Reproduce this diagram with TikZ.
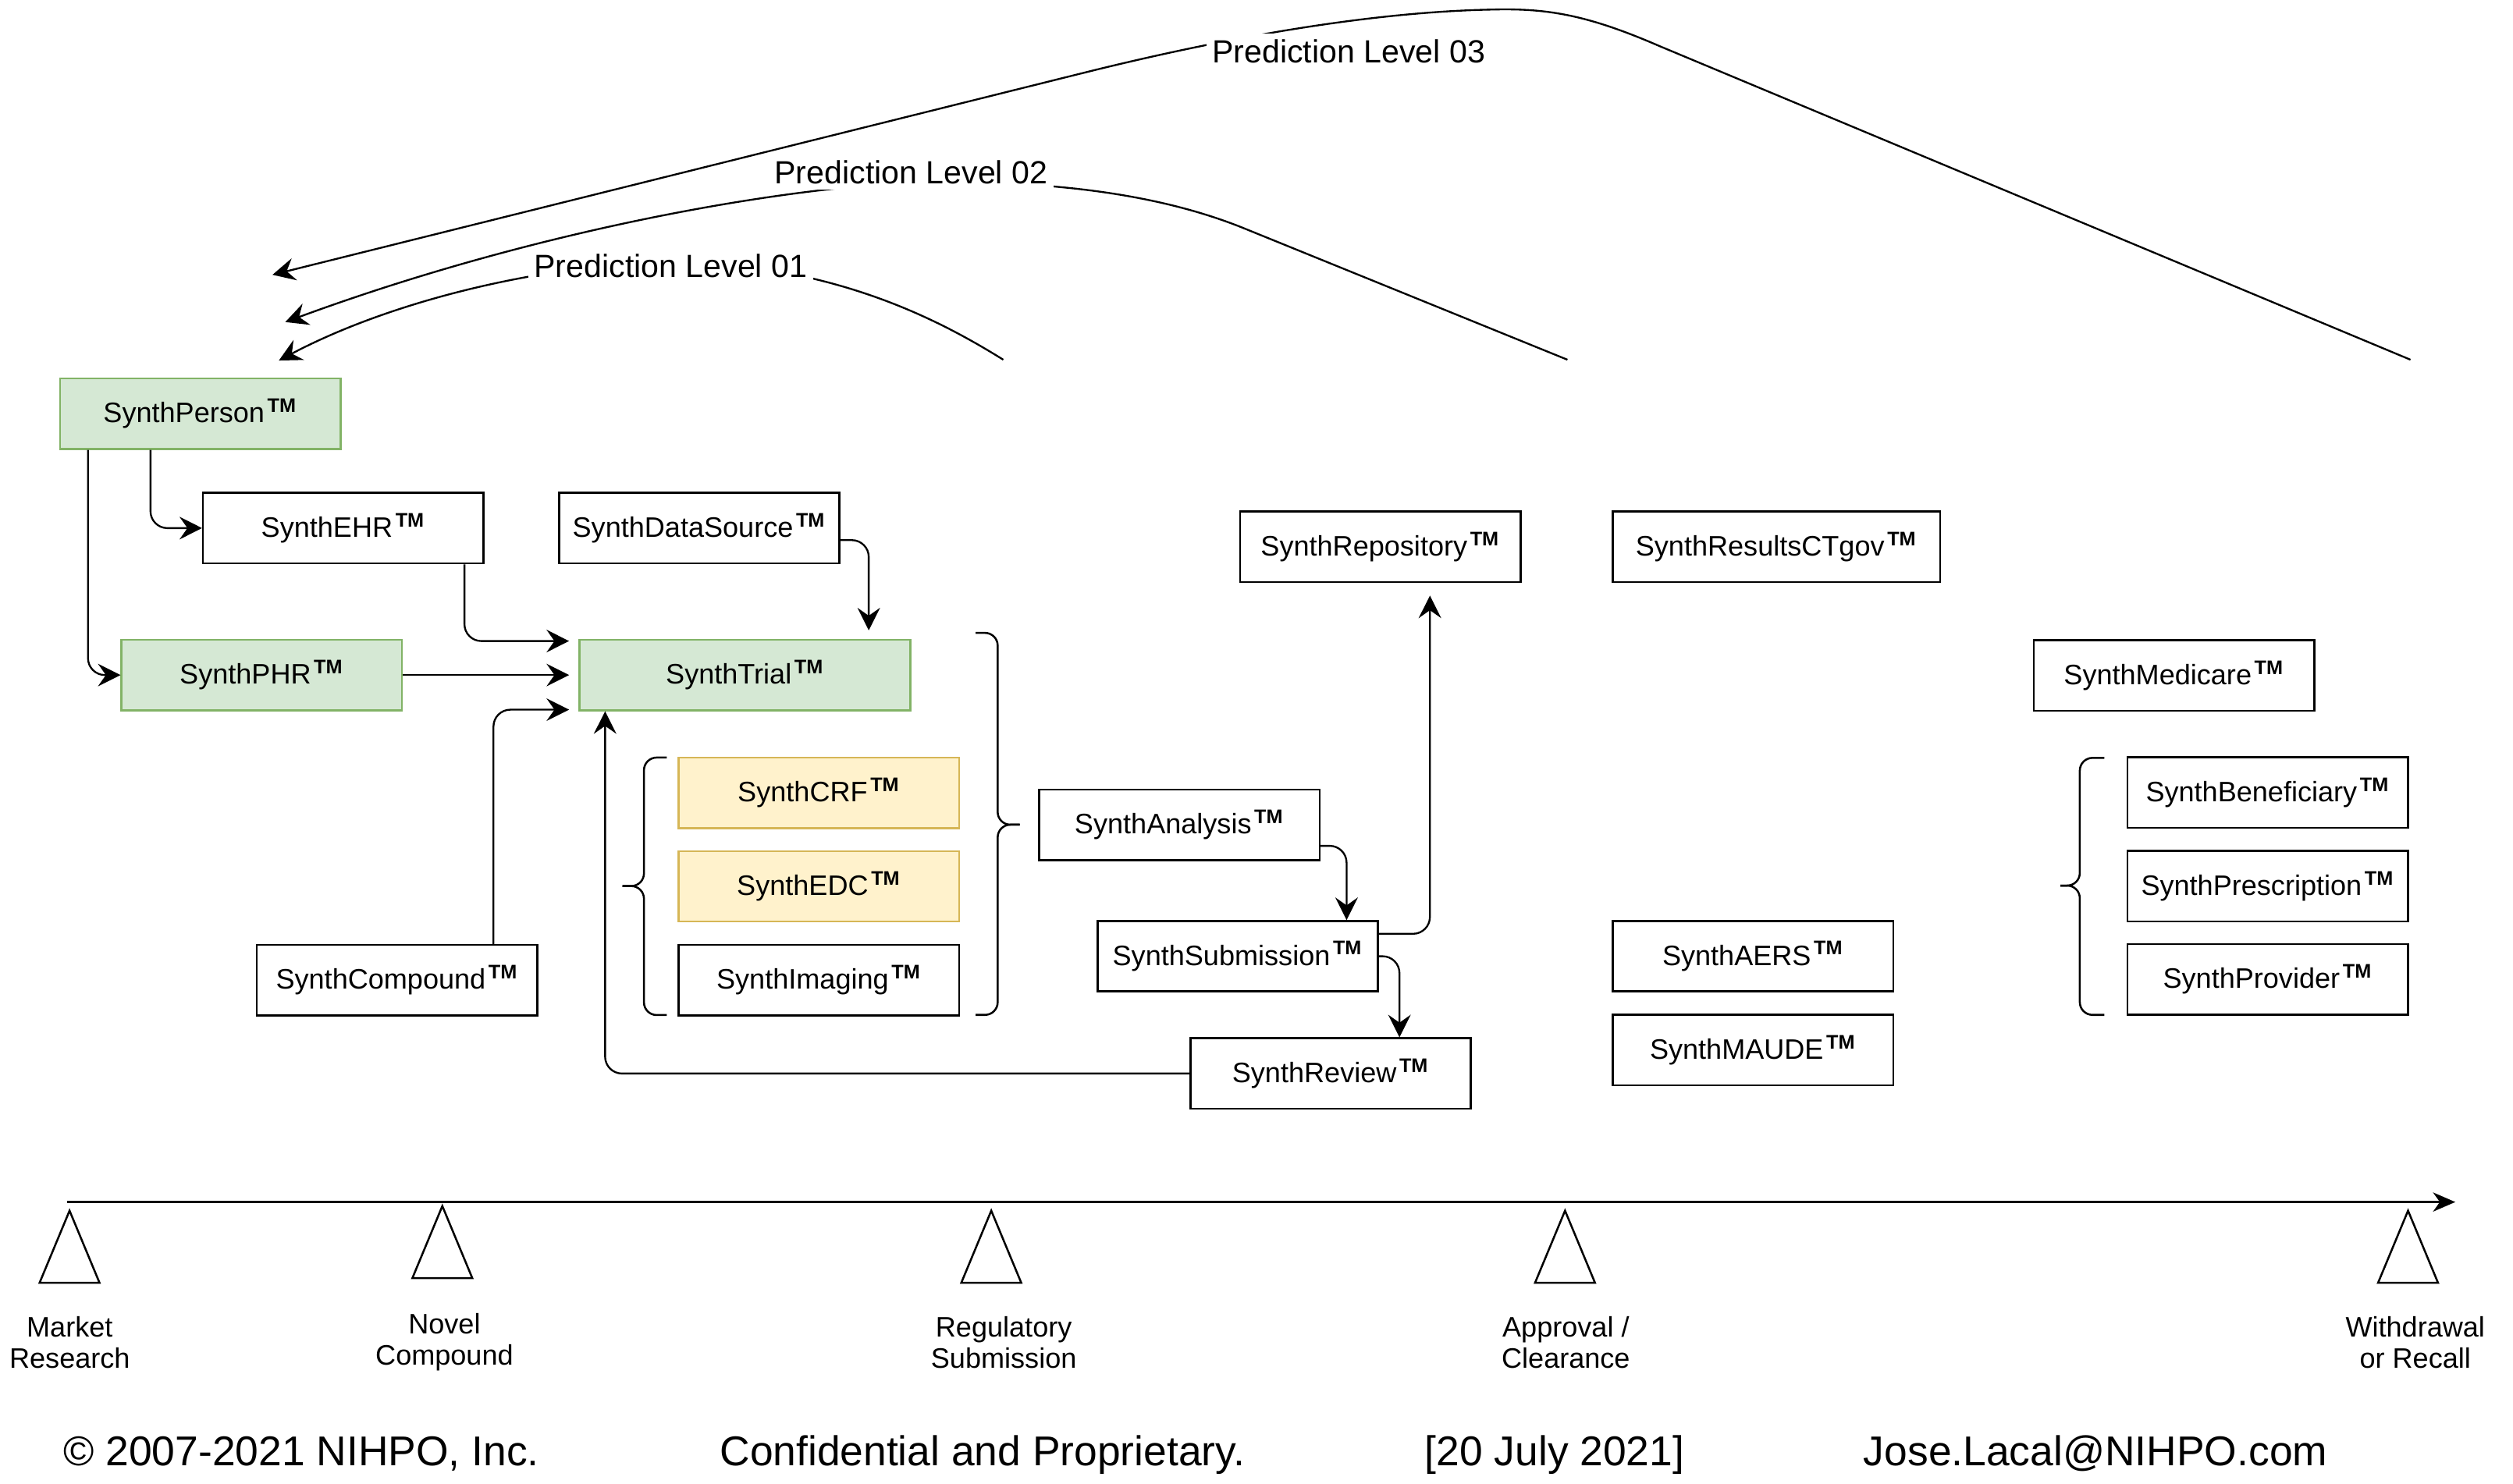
\documentclass[tikz,border=0pt]{standalone}
\usepackage{fontspec}
\setmainfont{Liberation Sans}
\usetikzlibrary{arrows.meta,calc}

\definecolor{greenfill}{HTML}{D5E8D4}
\definecolor{greenline}{HTML}{82B366}
\definecolor{yellowfill}{HTML}{FFF2CC}
\definecolor{yellowline}{HTML}{D6B656}

\newcommand{\synthtm}{\kern1pt\textsuperscript{\bfseries TM}}

\begin{document}
\begin{tikzpicture}[x=0.02cm, y=-0.02cm,
	synthbox/.style={draw, line width=0.7pt, minimum width=3.5cm, minimum height=0.88cm, inner sep=0pt, font=\fontsize{10}{12}\selectfont},
	greenbox/.style={synthbox, draw=greenline, fill=greenfill},
	yellowbox/.style={synthbox, draw=yellowline, fill=yellowfill},
	link/.style={line width=0.65pt, rounded corners=6pt, -{Stealth[length=8pt, width=8pt, inset=2.8pt]}},
	predict/.style={line width=0.65pt, -{Stealth[length=8pt, width=8pt, inset=2.8pt]}},
	levellabel/.style={fill=white, inner sep=2pt, anchor=base, font=\fontsize{11.4}{13.7}\selectfont},
	bracket/.style={line width=0.7pt, rounded corners=4.5pt},
	milestone/.style={line width=0.7pt},
	stagetext/.style={anchor=north, align=center, inner sep=0pt, font=\fontsize{10}{11}\selectfont},
	footer/.style={anchor=base, inner sep=0pt, font=\fontsize{14.8}{17}\selectfont}]

	\useasboundingbox (0,0) rectangle (1568,926);

	% ---- boxes

	\node[greenbox] (person) at (125,258.2) {SynthPerson\synthtm};
	\node[synthbox] (ehr) at (214.2,329.6) {SynthEHR\synthtm};
	\node[synthbox] (datasource) at (436.3,329.6) {SynthDataSource\synthtm};
	\node[greenbox] (phr) at (163.3,421.3) {SynthPHR\synthtm};
	\node[greenbox, minimum width=4.13cm] (trial) at (464.9,421.3) {SynthTrial\synthtm};
	\node[yellowbox] (crf) at (511,494.8) {SynthCRF\synthtm};
	\node[yellowbox] (edc) at (511,553.2) {SynthEDC\synthtm};
	\node[synthbox] (imaging) at (511,611.7) {SynthImaging\synthtm};
	\node[synthbox] (compound) at (247.8,611.7) {SynthCompound\synthtm};

	\node[synthbox] (analysis) at (735.9,514.9) {SynthAnalysis\synthtm};
	\node[synthbox] (submission) at (772.3,596.8) {SynthSubmission\synthtm};
	\node[synthbox] (review) at (830.3,670) {SynthReview\synthtm};
	\node[synthbox] (repository) at (861.3,341.2) {SynthRepository\synthtm};

	\node[synthbox, minimum width=4.09cm] (resultsct) at (1108.4,341.2) {SynthResultsCTgov\synthtm};
	\node[synthbox] (aers) at (1093.8,596.8) {SynthAERS\synthtm};
	\node[synthbox] (maude) at (1093.8,655.3) {SynthMAUDE\synthtm};

	\node[synthbox] (medicare) at (1356.5,421.6) {SynthMedicare\synthtm};
	\node[synthbox] (beneficiary) at (1415,494.7) {SynthBeneficiary\synthtm};
	\node[synthbox] (prescription) at (1415,553) {SynthPrescription\synthtm};
	\node[synthbox] (provider) at (1415,611.2) {SynthProvider\synthtm};

	% ---- connectors

	\draw[link] ($(person.south west)+(18,0)$) |- (phr.west);
	\draw[link] ($(person.south west)+(57,0)$) |- (ehr.west);
	\draw[link, shorten >=3.4pt] ($(ehr.south east)+(-12.5,0)$) |- ($(trial.north west)+(0,1.4)$);
	\draw[link, shorten >=3.4pt] (phr.east) -- (trial.west);
	\draw[link, shorten >=3.4pt] ($(compound.north east)+(-28,0)$) |- ($(trial.south west)+(0,-1)$);
	\draw[link, shorten >=3pt] ($(datasource.east)+(0,7.5)$) -| ($(trial.north west)+(181,0)$);
	\draw[link] (review.west) -| ($(trial.south west)+(16.5,0)$);

	\draw[link] ($(analysis.east)+(0,13)$) -| ($(submission.north west)+(156,0)$);
	\draw[link, shorten >=4.5pt] ($(submission.east)+(0,-14)$) -| ($(repository.south west)+(119,0)$);
	\draw[link] (submission.east) -| ($(review.north west)+(131,0)$);

	% ---- brackets

	\draw[bracket] (416,472.8) -- (401.8,472.8) -- (401.8,553) -- (388.4,553);
	\draw[bracket] (388.4,553) -- (401.8,553) -- (401.8,633.5) -- (416,633.5);

	\draw[bracket] (608.7,395) -- (622.5,395) -- (622.5,514.7) -- (636.2,514.7);
	\draw[bracket] (636.2,514.7) -- (622.5,514.7) -- (622.5,633.4) -- (608.7,633.4);

	\draw[bracket] (1313,473) -- (1297.7,473) -- (1297.7,552.7) -- (1285.6,552.7);
	\draw[bracket] (1285.6,552.7) -- (1297.7,552.7) -- (1297.7,633.4) -- (1313,633.4);

	% ---- prediction levels

	\coordinate (pl1start) at (626,224.5);
	\coordinate (pl1end) at (174,225);
	\coordinate (pl2start) at (978,224.5);
	\coordinate (pl2end) at (178,201);
	\coordinate (pl3start) at (1504,224.5);
	\coordinate (pl3end) at (170,171.5);

	\draw[predict] (pl1start) .. controls (585,199) and (520,165) .. (419,163)
		.. controls (330,166) and (240,190) .. (pl1end);
	\draw[predict] (pl2start) -- (775,142) .. controls (720,120) and (650,112) .. (568,114)
		.. controls (480,118) and (330,145) .. (pl2end);
	\draw[predict] (pl3start) -- (1036,29) .. controls (990,9) and (965,5) .. (930,6)
		.. controls (880,7) and (800,15) .. (682,44) -- (pl3end);

	\node[levellabel] (level01) at (418.5,173.3) {Prediction Level 01};
	\node[levellabel] (level02) at (568.5,114.6) {Prediction Level 02};
	\node[levellabel] (level03) at (841.5,39.1) {Prediction Level 03};

	% ---- timeline

	\coordinate (tstart) at (41.9,750.2);
	\coordinate (tend) at (1532,750.2);
	\draw[line width=0.7pt, -{Stealth[length=7.9pt, width=6.8pt, inset=2.4pt]}] (tstart) -- (tend);

	\foreach \cx/\ty in {43.4/755.6, 276/752.7, 618.5/755.6, 976.5/755.6, 1502.5/755.6} {
		\draw[milestone] (\cx,\ty) -- ++(-18.7,45) -- ++(37.4,0) -- cycle;
	}

	\node[stagetext] (market) at (43.5,821.5) {Market\\Research};
	\node[stagetext] (novel) at (277.3,819.3) {Novel\\Compound};
	\node[stagetext] (regulatory) at (626.3,821.5) {Regulatory\\Submission};
	\node[stagetext] (approval) at (977,821.5) {Approval /\\Clearance};
	\node[stagetext] (withdrawal) at (1507,821.5) {Withdrawal\\or Recall};

	% ---- footer

	\node[footer] (copyright) at (188,914.8) {© 2007-2021 NIHPO, Inc.};
	\node[footer] (confidential) at (613,914.8) {Confidential and Proprietary.};
	\node[footer] (date) at (970,914.8) {[20 July 2021]};
	\node[footer] (email) at (1307.5,914.8) {Jose.Lacal@NIHPO.com};

\end{tikzpicture}
\end{document}
